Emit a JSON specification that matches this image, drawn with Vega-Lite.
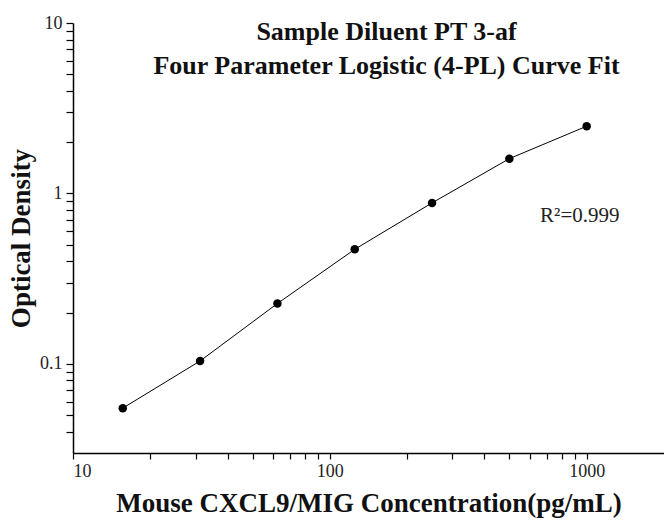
{
  "$schema": "https://vega.github.io/schema/vega-lite/v6.json",
  "width": 591,
  "height": 430,
  "autosize": "none",
  "padding": {"left": 73, "top": 23, "right": 0, "bottom": 67},
  "background": "white",
  "config": {
    "view": {"stroke": null},
    "axis": {
      "grid": false,
      "domainColor": "#000",
      "domainWidth": 1.5,
      "tickColor": "#000",
      "tickWidth": 1.2,
      "labelFont": "Liberation Serif",
      "labelFontSize": 18,
      "labelColor": "#222",
      "labelOverlap": false,
      "labelBound": false,
      "titleFont": "Liberation Serif",
      "titleFontSize": 27,
      "titleFontWeight": "bold",
      "titleColor": "#111"
    }
  },
  "title": {
    "text": ["Sample Diluent PT 3-af", "Four Parameter Logistic (4-PL) Curve Fit"],
    "orient": "top",
    "anchor": "middle",
    "frame": "group",
    "font": "Liberation Serif",
    "fontSize": 26,
    "fontWeight": "bold",
    "color": "#111",
    "lineHeight": 34,
    "baseline": "top",
    "offset": 0,
    "dx": 18,
    "dy": 65
  },
  "datasets": {
    "pts": [
      {"conc": 15.625, "od": 0.055},
      {"conc": 31.25, "od": 0.104},
      {"conc": 62.5, "od": 0.226},
      {"conc": 125, "od": 0.47},
      {"conc": 250, "od": 0.88},
      {"conc": 500, "od": 1.6},
      {"conc": 1000, "od": 2.48}
    ],
    "ann": [{"conc": 940, "od": 0.74, "label": "R²=0.999"}]
  },
  "layer": [
    {
      "data": {"name": "pts"},
      "mark": {"type": "line", "color": "#000", "strokeWidth": 1, "interpolate": "linear"},
      "encoding": {
        "x": {
          "field": "conc", "type": "quantitative",
          "scale": {"type": "log", "domain": [10, 2000], "nice": false},
          "axis": {
            "orient": "bottom",
            "values": [10, 20, 30, 40, 50, 60, 70, 80, 90, 100, 200, 300, 400, 500, 600, 700, 800, 900, 1000],
            "format": "d",
            "labelExpr": "indexof([10, 100, 1000], datum.value) >= 0 ? datum.label : ''",
            "tickSize": 6,
            "labelPadding": 3,
            "titlePadding": 10,
            "title": "Mouse CXCL9/MIG Concentration(pg/mL)",
            "encode": {"ticks": {"update": {"y2": {"signal": "indexof([10, 100, 1000], datum.value) >= 0 ? 6 : 4"}}}}
          }
        },
        "y": {
          "field": "od", "type": "quantitative",
          "scale": {"type": "log", "domain": [0.03, 10], "nice": false},
          "axis": {
            "orient": "left",
            "values": [0.04, 0.05, 0.06, 0.07, 0.08, 0.09, 0.1, 0.2, 0.3, 0.4, 0.5, 0.6, 0.7, 0.8, 0.9, 1, 2, 3, 4, 5, 6, 7, 8, 9, 10],
            "labelExpr": "indexof([0.1, 1, 10], datum.value) >= 0 ? datum.value + '' : ''",
            "tickSize": 7,
            "labelPadding": 4,
            "titlePadding": 4,
            "title": "Optical Density",
            "encode": {"ticks": {"update": {"x2": {"signal": "indexof([0.1, 1, 10], datum.value) >= 0 ? -7 : -4"}}}}
          }
        }
      }
    },
    {
      "data": {"name": "pts"},
      "mark": {"type": "point", "filled": true, "color": "#000", "size": 72, "opacity": 1},
      "encoding": {
        "x": {"field": "conc", "type": "quantitative"},
        "y": {"field": "od", "type": "quantitative"}
      }
    },
    {
      "data": {"name": "ann"},
      "mark": {"type": "text", "font": "Liberation Serif", "fontSize": 21, "color": "#222", "align": "center", "baseline": "middle"},
      "encoding": {
        "x": {"field": "conc", "type": "quantitative"},
        "y": {"field": "od", "type": "quantitative"},
        "text": {"field": "label"}
      }
    }
  ]
}
